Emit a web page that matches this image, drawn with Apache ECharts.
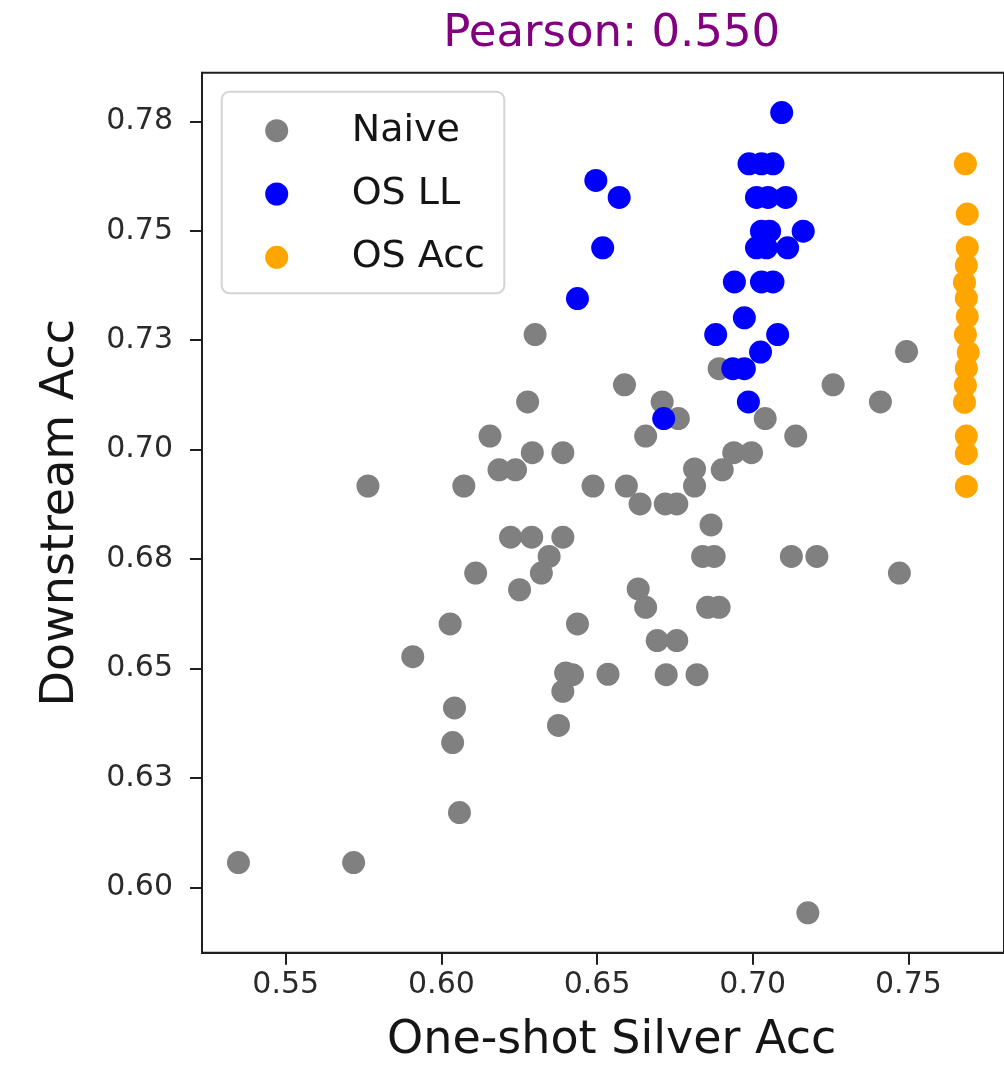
<!DOCTYPE html>
<html>
<head>
<meta charset="utf-8">
<script src="https://cdn.jsdelivr.net/npm/echarts@6/dist/echarts.min.js"></script>
<style>
  html, body { margin: 0; padding: 0; background: #ffffff; }
  #chart { width: 1004px; height: 1066px; }
</style>
</head>
<body>
<div id="chart"></div>
<script>
// Silver accuracy (x) vs downstream accuracy (y) for three selection strategies
const seriesNames = ['Naive', 'OS LL', 'OS Acc'];

const naiveX = [0.6301, 0.7494, 0.6892, 0.6588, 0.7258, 0.6277, 0.6709, 0.7410, 0.6761, 0.7040,
                0.6156, 0.6656, 0.7138, 0.6292, 0.6390, 0.6939, 0.6996, 0.6185, 0.6238, 0.6813,
                0.6902, 0.5764, 0.6072, 0.6487, 0.6594, 0.6813, 0.6638, 0.6719, 0.6756, 0.6866,
                0.6222, 0.6290, 0.6390, 0.6346, 0.6839, 0.6876, 0.7124, 0.7206, 0.6110, 0.6321,
                0.7471, 0.6251, 0.6632, 0.6656, 0.6855, 0.6892, 0.6028, 0.6437, 0.6693, 0.6756,
                0.5908, 0.6399, 0.6421, 0.6535, 0.6722, 0.6821, 0.6390, 0.6042, 0.6376, 0.6036,
                0.6058, 0.5348, 0.5718, 0.7177];
const naiveY = [0.7263, 0.7224, 0.7185, 0.7148, 0.7148, 0.7109, 0.7109, 0.7109, 0.7071, 0.7071,
                0.7031, 0.7031, 0.7031, 0.6993, 0.6993, 0.6993, 0.6993, 0.6954, 0.6954, 0.6956,
                0.6954, 0.6917, 0.6917, 0.6917, 0.6917, 0.6917, 0.6876, 0.6876, 0.6876, 0.6828,
                0.6800, 0.6800, 0.6800, 0.6756, 0.6756, 0.6756, 0.6756, 0.6756, 0.6718, 0.6718,
                0.6718, 0.6680, 0.6682, 0.6640, 0.6640, 0.6640, 0.6602, 0.6602, 0.6564, 0.6564,
                0.6527, 0.6490, 0.6486, 0.6487, 0.6486, 0.6486, 0.6448, 0.6410, 0.6370, 0.6331,
                0.6171, 0.6057, 0.6057, 0.5942];

const osllX = [0.7093, 0.6988, 0.7028, 0.7065, 0.6496, 0.6571, 0.7012, 0.7049, 0.7106, 0.7162,
               0.7028, 0.7054, 0.6518, 0.7012, 0.7044, 0.7112, 0.6437, 0.6941, 0.7028, 0.7065,
               0.6973, 0.6881, 0.7080, 0.7025, 0.6936, 0.6973, 0.6986, 0.6714];
const osllY = [0.7770, 0.7653, 0.7653, 0.7653, 0.7615, 0.7576, 0.7576, 0.7576, 0.7576, 0.7499,
               0.7499, 0.7499, 0.7461, 0.7461, 0.7461, 0.7461, 0.7345, 0.7383, 0.7383, 0.7383,
               0.7301, 0.7263, 0.7263, 0.7223, 0.7185, 0.7185, 0.7109, 0.7071];

const osaccX = [0.7683, 0.7689, 0.7689, 0.7686, 0.7680, 0.7686, 0.7689, 0.7683, 0.7692, 0.7686,
                0.7683, 0.7680, 0.7686, 0.7686, 0.7686];
const osaccY = [0.7653, 0.7538, 0.7462, 0.7421, 0.7382, 0.7346, 0.7304, 0.7263, 0.7222, 0.7186,
                0.7147, 0.7108, 0.7031, 0.6991, 0.6916];

const xTickValues = [0.55, 0.60, 0.65, 0.70, 0.75];
const xTickLabels = ['0.55', '0.60', '0.65', '0.70', '0.75'];
const yTickValues = [0.600, 0.625, 0.650, 0.675, 0.700, 0.725, 0.750, 0.775];
const yTickLabels = ['0.60', '0.63', '0.65', '0.68', '0.70', '0.73', '0.75', '0.78'];

const titleText = 'Pearson: 0.550';
const xName = 'One-shot Silver Acc';
const yName = 'Downstream Acc';

function pairs(xs, ys) {
  return xs.map((x, i) => [x, ys[i]]);
}
function tickLabel(values, labels) {
  return function (v) {
    const i = values.findIndex(t => Math.abs(t - v) < 1e-6);
    return i >= 0 ? labels[i] : '';
  };
}

const FONT = '"DejaVu Sans", "Liberation Sans", sans-serif';
const INK = '#1f1f1f';

const chart = echarts.init(document.getElementById('chart'), null, { renderer: 'canvas' });

chart.setOption({
  animation: false,
  backgroundColor: '#ffffff',
  grid: {
    left: 202, top: 72.7, width: 819.5, height: 880,
    show: true, borderColor: INK, borderWidth: 2, backgroundColor: 'transparent'
  },
  xAxis: {
    type: 'value', min: 0.5231, max: 0.7807,
    axisLine: { show: true, onZero: false, lineStyle: { color: INK, width: 2 } },
    axisTick: { show: true, inside: false, length: 12, customValues: xTickValues,
                lineStyle: { color: INK, width: 2 } },
    axisLabel: { customValues: xTickValues, formatter: tickLabel(xTickValues, xTickLabels),
                 margin: 18, fontSize: 30, fontFamily: FONT, color: '#2a2a2a' },
    splitLine: { show: false }
  },
  yAxis: {
    type: 'value', min: 0.5851, max: 0.7861,
    axisLine: { show: true, onZero: false, lineStyle: { color: INK, width: 2 } },
    axisTick: { show: true, inside: false, length: 12, customValues: yTickValues,
                lineStyle: { color: INK, width: 2 } },
    axisLabel: { customValues: yTickValues, formatter: tickLabel(yTickValues, yTickLabels),
                 margin: 29, fontSize: 30, fontFamily: FONT, color: '#2a2a2a' },
    splitLine: { show: false }
  },
  legend: {
    orient: 'vertical',
    left: 221.7, top: 91.7,
    padding: [19, 19.4, 16, 43.5],
    itemWidth: 23, itemHeight: 23, itemGap: 23.3,
    icon: 'circle',
    backgroundColor: '#ffffff',
    borderColor: '#d4d4d4', borderWidth: 2, borderRadius: 8,
    textStyle: { fontSize: 38, fontFamily: FONT, color: '#151515', lineHeight: 40,
                 padding: [0, 0, 0, 58.5] },
    data: seriesNames
  },
  graphic: [
    { type: 'text', x: 611.7, y: 34.2, silent: true,
      style: { text: titleText, fill: '#800080', font: '45px ' + FONT,
               textAlign: 'center', textVerticalAlign: 'middle' } },
    { type: 'text', x: 611.7, y: 1041.5, silent: true,
      style: { text: xName, fill: '#151515', font: '46px ' + FONT,
               textAlign: 'center', textVerticalAlign: 'middle' } },
    { type: 'text', x: 61, y: 512.7, rotation: Math.PI / 2, silent: true,
      style: { text: yName, fill: '#151515', font: '46px ' + FONT,
               textAlign: 'center', textVerticalAlign: 'middle' } }
  ],
  series: [
    { name: seriesNames[0], type: 'scatter', symbolSize: 23,
      itemStyle: { color: '#808080', opacity: 1 }, data: pairs(naiveX, naiveY) },
    { name: seriesNames[1], type: 'scatter', symbolSize: 23,
      itemStyle: { color: '#0000ff', opacity: 1 }, data: pairs(osllX, osllY) },
    { name: seriesNames[2], type: 'scatter', symbolSize: 23,
      itemStyle: { color: '#ffa500', opacity: 1 }, data: pairs(osaccX, osaccY) }
  ]
});
</script>
</body>
</html>
